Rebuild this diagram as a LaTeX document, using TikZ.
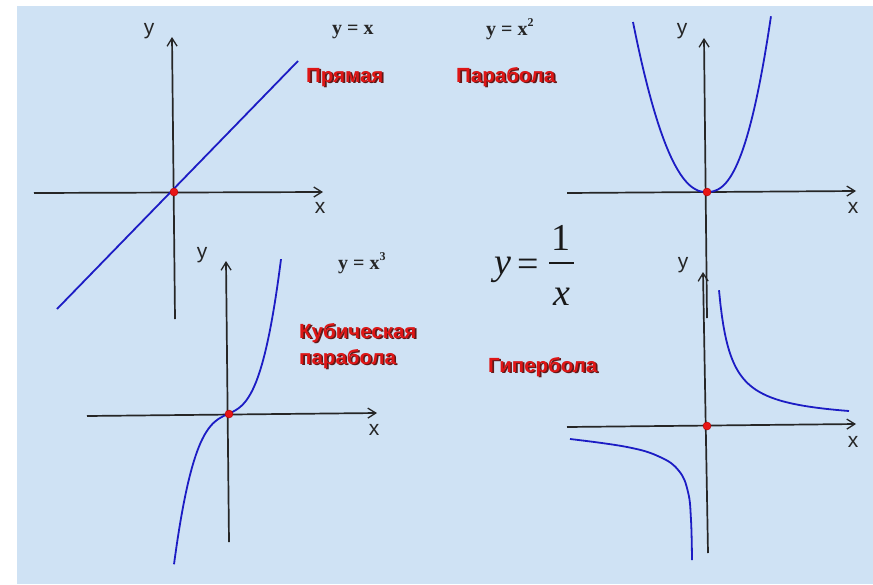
\documentclass[tikz,border=0pt]{standalone}
\usepackage{fontspec}
\setmainfont{Liberation Serif}
\newfontfamily\arialfont{Liberation Sans}
\usetikzlibrary{arrows.meta}
\definecolor{bgblue}{RGB}{207,226,244}
\definecolor{curveblue}{RGB}{28,28,196}
\definecolor{lblred}{RGB}{222,22,22}
\definecolor{shadowc}{RGB}{95,25,25}
\definecolor{dotred}{RGB}{232,22,22}
\begin{document}
\begin{tikzpicture}[x=1pt,y=-1pt,
  axis/.style={line width=1.7pt, draw=black!85, -{Straight Barb[length=8pt,width=10pt,line width=1.3pt]}},
  curve/.style={line width=1.8pt, draw=curveblue, line join=round},
  axlbl/.style={font=\arialfont\fontsize{21}{21}\selectfont, inner sep=0, anchor=base, text=black!85},
  eqlbl/.style={font=\bfseries\fontsize{20}{20}\selectfont, inner sep=0, anchor=base west, text=black!85},
  redlbl/.style={font=\arialfont\bfseries\fontsize{20.5}{20.5}\selectfont, inner sep=0, anchor=base west, text=lblred},
  shdlbl/.style={font=\arialfont\bfseries\fontsize{20.5}{20.5}\selectfont, inner sep=0, anchor=base west, text=shadowc},
  bigf/.style={font=\fontsize{38}{38}\selectfont, inner sep=0, anchor=base, text=black!90},
  dot/.style={circle, fill=dotred, draw=red!70!black, line width=0.4pt, inner sep=0, minimum size=8pt}
]
\useasboundingbox (0,0) rectangle (873,584);
\fill[white] (0,0) rectangle (873,584);
\fill[bgblue] (17,6) rectangle (873,584);

% ---------- Graph 1: straight line ----------
\coordinate (a1l) at (34,193);
\coordinate (a1r) at (323,192);
\coordinate (a1b) at (175,319);
\coordinate (a1t) at (172,37);
\coordinate (c1a) at (57,309);
\coordinate (c1b) at (298,61);
\draw[axis] (a1l) -- (a1r);
\draw[axis] (a1b) -- (a1t);
\draw[curve] (c1a) -- (c1b);
\node[dot] (o1) at (174,192) {};
\node[axlbl] (y1) at (149,34) {y};
\node[axlbl] (x1) at (320,213) {x};
\node[eqlbl] (e1) at (332,34) {y = x};
\node[shdlbl] (s1) at (307.6,83.6) {Прямая};
\node[redlbl] (l1) at (306,82) {Прямая};

% ---------- Graph 2: parabola ----------
\coordinate (a2l) at (567,193);
\coordinate (a2r) at (856,191);
\coordinate (a2b) at (707,318);
\coordinate (a2t) at (704,38);
\draw[axis] (a2l) -- (a2r);
\draw[axis] (a2b) -- (a2t);
\draw[curve] plot[domain=1:0.001, samples=60, variable=\pp] ({706-73*\pp},{192-170*(\pp)^2.15})
  -- plot[domain=0.001:1, samples=60, variable=\pp] ({706+65*\pp},{192-176*(\pp)^2.5});
\node[dot] (o2) at (707,192) {};
\node[axlbl] (y2) at (682,34) {y};
\node[axlbl] (x2) at (853,213) {x};
\node[eqlbl] (e2) at (486,35) {y = x\raisebox{0.42em}{\fontsize{12}{12}\selectfont 2}};
\node[shdlbl] (s2) at (457.6,83.6) {Парабола};
\node[redlbl] (l2) at (456,82) {Парабола};

% ---------- Graph 3: cubic ----------
\coordinate (a3l) at (87,416);
\coordinate (a3r) at (377,413);
\coordinate (a3b) at (229,542);
\coordinate (a3t) at (226,261);
\draw[axis] (a3l) -- (a3r);
\draw[axis] (a3b) -- (a3t);
\draw[curve] plot[domain=-5.4:0, samples=60, variable=\qq] ({228+10*\qq},{414-(4.5*\qq+0.8*\qq*\qq*\qq)})
  -- plot[domain=0:5.3, samples=60, variable=\qq] ({228+10*\qq},{414-(4.5*\qq+0.88*\qq*\qq*\qq)});
\node[dot] (o3) at (229,414) {};
\node[axlbl] (y3) at (202,258) {y};
\node[axlbl] (x3) at (374,435) {x};
\node[eqlbl] (e3) at (338,269) {y = x\raisebox{0.42em}{\fontsize{12}{12}\selectfont 3}};
\node[shdlbl] (s3a) at (300.6,339.6) {Кубическая};
\node[redlbl] (l3a) at (299,338) {Кубическая};
\node[shdlbl] (s3b) at (300.6,365.6) {парабола};
\node[redlbl] (l3b) at (299,364) {парабола};

% ---------- Graph 4: hyperbola ----------
\coordinate (a4l) at (567,427);
\coordinate (a4r) at (856,424);
\coordinate (a4b) at (708,553);
\coordinate (a4t) at (703,272);
\draw[axis] (a4l) -- (a4r);
\draw[axis] (a4b) -- (a4t);
\draw[curve] plot[domain=12:142, samples=90, variable=\qq] ({707+\qq},{426-(3.85+1583/\qq)});
\draw[curve] plot[smooth, tension=0.7] coordinates {(570,439) (627,447) (660,457) (679,471) (688,492) (691,520) (692,560)};
\node[dot] (o4) at (707,426) {};
\node[axlbl] (y4) at (683,268) {y};
\node[axlbl] (x4) at (853,447) {x};
\node[shdlbl] (s4) at (489.6,373.6) {Гипербола};
\node[redlbl] (l4) at (488,372) {Гипербола};

% ---------- formula y = 1/x ----------
\node[bigf] (fy) at (503,274) {\itshape y};
\node[bigf] (feq) at (528,276) {=};
\node[bigf] (fone) at (561,250) {1};
\node[bigf] (fx) at (562,305) {\itshape x};
\coordinate (fbl) at (549,263);
\coordinate (fbr) at (574,263);
\draw[line width=1.4pt, black!90] (fbl) -- (fbr);
\end{tikzpicture}
\end{document}
